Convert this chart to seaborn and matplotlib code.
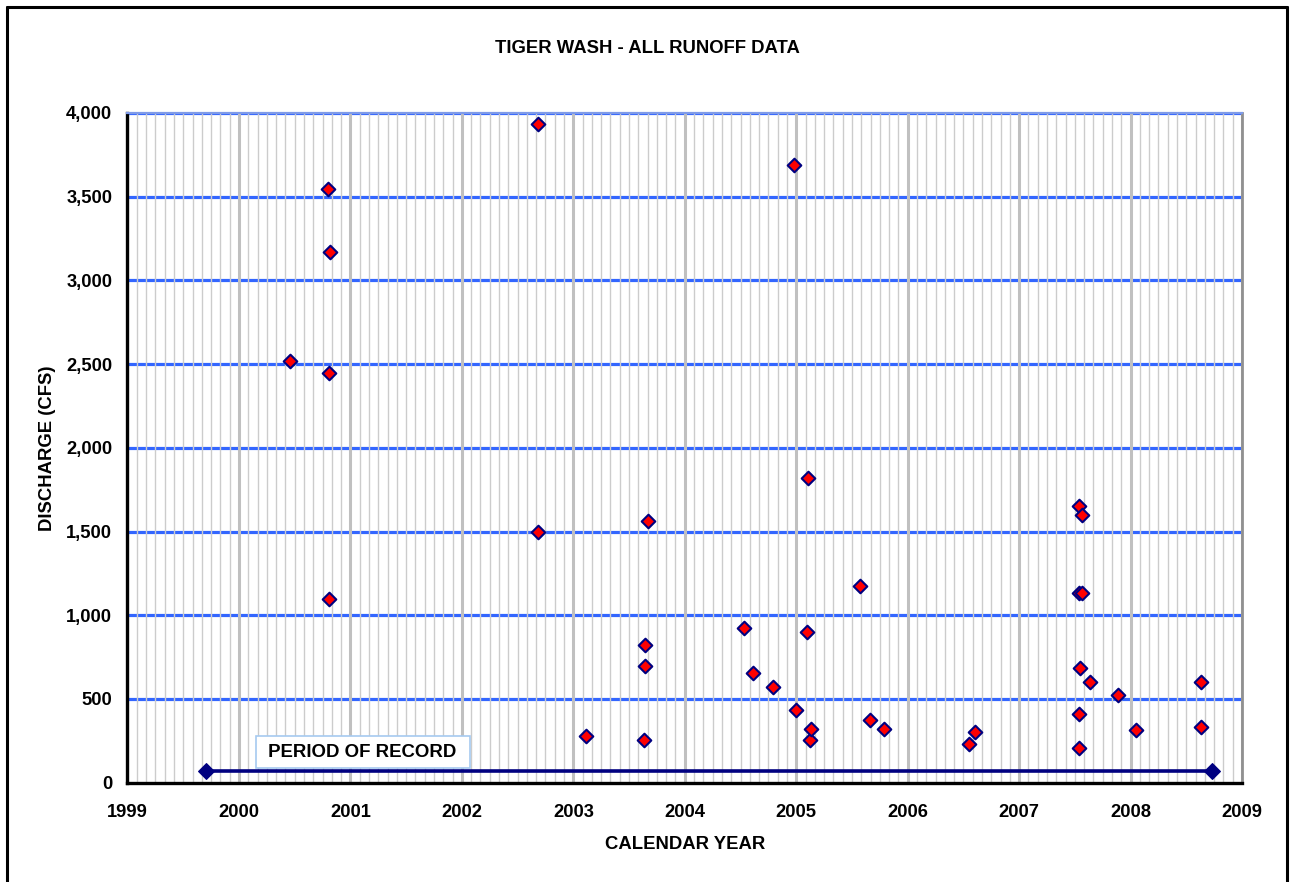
import numpy as np
import pandas as pd
import matplotlib
matplotlib.use("Agg")
import matplotlib.pyplot as plt
from matplotlib.lines import Line2D
from matplotlib.ticker import FuncFormatter
import seaborn as sns

# Runoff events (decimal year, discharge in cfs)
event_year = [2000.46, 2000.80, 2000.82, 2000.81, 2000.81, 2002.68, 2002.68,
              2003.11, 2003.63, 2003.64, 2003.64, 2003.67, 2004.53, 2004.61,
              2004.79, 2004.98, 2005.00, 2005.10, 2005.11, 2005.12, 2005.13,
              2005.57, 2005.66, 2005.79, 2006.55, 2006.60, 2007.54, 2007.56,
              2007.54, 2007.56, 2007.55, 2007.54, 2007.54, 2007.64, 2007.89,
              2008.05, 2008.63, 2008.63]
discharge = [2520, 3545, 3168, 2449, 1096, 3935, 1500,
             279, 253, 821, 699, 1561, 926, 657,
             572, 3692, 432, 902, 1822, 257, 319,
             1173, 373, 319, 229, 303, 1655, 1601,
             1130, 1130, 683, 412, 205, 600, 522,
             317, 600, 335]

# Period of record bar
record_year = [1999.70, 2008.73]
record_level = [70, 70]

x_ticks = list(range(1999, 2010))
y_ticks = list(range(0, 4001, 500))

df = pd.DataFrame({"year": event_year, "cfs": discharge})
df_rec = pd.DataFrame({"year": record_year, "cfs": record_level})

sns.set_style("white")
plt.rcParams["font.family"] = ["Liberation Sans", "DejaVu Sans"]
plt.rcParams["font.weight"] = "bold"
plt.rcParams["text.color"] = "black"
plt.rcParams["axes.labelcolor"] = "black"
plt.rcParams["xtick.color"] = "black"
plt.rcParams["ytick.color"] = "black"

fig = plt.figure(figsize=(12.93, 8.82), dpi=100)
ax = fig.add_axes([0.0986, 0.1126, 0.8620, 0.7593])

# grid: blue horizontals under grey verticals
for v in y_ticks[1:]:
    ax.axhline(v, color="#3366ff", lw=2.3, zorder=0.3)
ax.set_axisbelow(True)
ax.set_xticks(x_ticks)
ax.set_xticks(np.arange(1999, 2009.001, 1 / 12), minor=True)
ax.grid(which="minor", axis="x", color="#cccccc", lw=1.0)
ax.grid(which="major", axis="x", color="#c0c0c0", lw=2.2)

sns.lineplot(data=df_rec, x="year", y="cfs", ax=ax, color="#000080", lw=2.6,
             marker="D", markersize=8, markeredgecolor="#000080", zorder=3)
sns.scatterplot(data=df, x="year", y="cfs", ax=ax, marker="D", s=48,
                color="red", edgecolor="#000080", linewidth=1.5, zorder=4)

ax.set_xlim(1999, 2009)
ax.set_ylim(0, 4000)
ax.set_yticks(y_ticks)
ax.yaxis.set_major_formatter(FuncFormatter(lambda v, p: f"{int(v):,}"))

ax.tick_params(axis="both", which="major", direction="out", length=6,
               width=2.2, color="black", labelcolor="black", labelsize=13.2)
ax.tick_params(axis="x", which="major", pad=9)
ax.tick_params(axis="y", which="major", pad=5)
ax.tick_params(which="minor", length=0)
for lab in ax.get_xticklabels() + ax.get_yticklabels():
    lab.set_fontweight("bold")

ax.spines["left"].set_color("black")
ax.spines["left"].set_linewidth(2.4)
ax.spines["bottom"].set_color("black")
ax.spines["bottom"].set_linewidth(2.4)
ax.spines["right"].set_color("#909090")
ax.spines["right"].set_linewidth(2.0)
ax.spines["top"].set_color("#7f9be8")
ax.spines["top"].set_linewidth(1.6)

ax.set_xlabel("CALENDAR YEAR", fontsize=13.3, fontweight="bold", labelpad=11)
ax.set_ylabel("DISCHARGE (CFS)", fontsize=13.3, fontweight="bold", labelpad=7)
fig.text(0.5005, 0.945, "TIGER WASH - ALL RUNOFF DATA", ha="center", va="center",
         fontsize=13.3, fontweight="bold")

ax.text(2001.11, 183, " PERIOD OF RECORD ", ha="center", va="center",
        fontsize=13.4, fontweight="bold", zorder=5,
        bbox=dict(boxstyle="square,pad=0.42", fc="white", ec="#a6caf0", lw=1.2))

# outer frame of the chart sheet (bottom edge cut off)
for xs, ys in [([0.0058, 0.0058], [0.0, 0.992]),
               ([0.0058, 0.9954], [0.992, 0.992]),
               ([0.9954, 0.9954], [0.0, 0.992])]:
    fig.add_artist(Line2D(xs, ys, transform=fig.transFigure, color="black", lw=2.2))

fig.savefig("out.png", dpi=100)
